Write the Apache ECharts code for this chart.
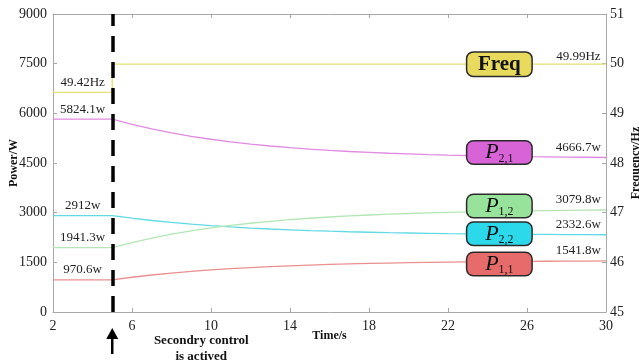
<!DOCTYPE html>
<html><head><meta charset="utf-8">
<script src="https://cdn.jsdelivr.net/npm/echarts@6/dist/echarts.min.js"></script>
<style>html,body{margin:0;padding:0;background:#fff}#c{width:639px;height:362px}</style>
</head><body><div id="c"></div>
<script>
// ---- data ----
const times = [2,3,4,5,6,7,8,9,10,11,12,13,14,15,16,17,18,19,20,21,22,23,24,25,26,27,28,29,30];
const p21 = [5824.1,5824.1,5824.1,5824.1,5666,5528,5409,5306,5217,5139,5072,5013,4963,4919,4881,4847,4820,4794,4773,4755,4739,4725,4712,4701,4692,4685,4678,4673,4666.7];
const p22 = [2912,2912,2912,2912,2833,2764,2704,2652,2608,2569,2535,2506,2481,2459,2440,2423,2409,2396,2386,2377,2368,2362,2355,2350,2345,2342,2338,2335,2332.6];
const p12 = [1941.3,1941.3,1941.3,1941.3,2097,2233,2350,2451,2539,2615,2681,2739,2788,2832,2869,2902,2930,2955,2975,2993,3009,3023,3035,3046,3055,3062,3068,3074,3079.8];
const p11 = [970.6,970.6,970.6,970.6,1049,1117,1176,1227,1270,1309,1342,1371,1396,1417,1436,1453,1466,1479,1489,1498,1506,1513,1520,1525,1529,1533,1536,1539,1541.8];
const freqTimes = [2,5,5,30];
const freqVals = [49.42,49.42,49.99,49.99];
const switchTime = 5;
const xTicks = {min:2, max:30, interval:4};
const yLeft = {min:0, max:9000, interval:1500};
const yRight = {min:45, max:51, interval:1};
const startLabels = ['5824.1w','2912w','1941.3w','970.6w'];
const endLabels = ['4666.7w','2332.6w','3079.8w','1541.8w'];
const freqStartLabel = '49.42Hz', freqEndLabel = '49.99Hz';
const legendNames = [['2','1'],['2','2'],['1','2'],['1','1']];

const serif = 'Liberation Serif';
const chart = echarts.init(document.getElementById('c'), null, {renderer:'canvas'});
const pair = (ts, vs) => ts.map((t,i)=>[t,vs[i]]);
const labelT0 = 3.5, labelT1 = 28.6, boxT = 24.6;
const boxShift = [-5, -1, -4, 3];

function valueLabel(t, v, text){
  return {coord:[t,v], symbol:'circle', symbolSize:0,
    label:{show:true, formatter:text, position:'inside', offset:[0,-10],
      fontFamily:serif, fontSize:13, color:'#222'}};
}
function boxLabel(t, v, sub, bg, dy){
  return {coord:[t,v], symbol:'circle', symbolSize:0,
    label:{show:true, position:'inside', offset:[0,dy], formatter:'{p|P}{s|'+sub[0]+','+sub[1]+'}',
      backgroundColor:bg, borderColor:'#2a2a2a', borderWidth:1.5, borderRadius:6,
      width:56, height:22, padding:[0,4], align:'center', verticalAlign:'middle',
      rich:{p:{fontFamily:serif, fontStyle:'italic', fontSize:22, color:'#111', lineHeight:22},
            s:{fontFamily:serif, fontSize:12, color:'#111', padding:[12,0,0,0], lineHeight:12}}}};
}
const powerSeries = [
  {vals:p21, line:'#e08ae0', box:'#d763d7'},
  {vals:p22, line:'#62d9e4', box:'#2cd9ea'},
  {vals:p12, line:'#b4e6b4', box:'#98e39c'},
  {vals:p11, line:'#ea9090', box:'#e86b6b'}
].map((s,k)=>({
  type:'line', xAxisIndex:0, yAxisIndex:0, data:pair(times, s.vals), showSymbol:false, smooth:false,
  lineStyle:{color:s.line, width:1.3}, itemStyle:{color:s.line}, z:3,
  markPoint:{animation:false, data:[
    valueLabel(labelT0, s.vals[0], startLabels[k]),
    valueLabel(labelT1, s.vals[s.vals.length-1], endLabels[k]),
    boxLabel(boxT, s.vals[s.vals.length-1], legendNames[k], s.box, boxShift[k])
  ]}
}));

const freqSeries = {
  type:'line', xAxisIndex:0, yAxisIndex:1, data:pair(freqTimes, freqVals), showSymbol:false,
  lineStyle:{color:'#e6df74', width:1.3}, z:3,
  markPoint:{animation:false, data:[
    {coord:[labelT0, freqVals[0]], symbol:'circle', symbolSize:0,
      label:{show:true, formatter:freqStartLabel, position:'inside', offset:[0,-10], fontFamily:serif, fontSize:13, color:'#222'}},
    {coord:[labelT1, freqVals[freqVals.length-1]], symbol:'circle', symbolSize:0,
      label:{show:true, formatter:freqEndLabel, position:'inside', offset:[0,-8], fontFamily:serif, fontSize:13, color:'#222'}},
    {coord:[boxT, freqVals[freqVals.length-1]], symbol:'circle', symbolSize:0,
      label:{show:true, position:'inside', formatter:'Freq', fontFamily:serif, fontWeight:'bold', fontSize:21, color:'#111',
        backgroundColor:'#e8da5c', borderColor:'#2a2a2a', borderWidth:1.5, borderRadius:6, width:56, height:23, padding:[0,4], align:'center', verticalAlign:'middle', lineHeight:23}}
  ]},
  markLine:{silent:true, symbol:'none', animation:false, label:{show:false},
    lineStyle:{color:'#000', width:3.5, type:[16,10]},
    data:[{xAxis:switchTime}]}
};

const axisLineGray = {show:true, lineStyle:{color:'#a8a8a8', width:1}};
const tickStyle = {show:true, inside:true, length:4, lineStyle:{color:'#a8a8a8'}};
const nameStyle = {fontFamily:serif, fontWeight:'bold', fontSize:12, color:'#111'};
const option = {
  animation:false,
  backgroundColor:'#fff',
  grid:{left:53, right:33, top:14, bottom:50, outerBoundsMode:'none'},
  xAxis:[
    {type:'value', position:'bottom', min:xTicks.min, max:xTicks.max, interval:xTicks.interval,
     name:'Time/s', nameLocation:'middle', nameGap:18, nameMoveOverlap:false, nameTextStyle:nameStyle,
     axisLine:axisLineGray, axisTick:tickStyle,
     axisLabel:{fontFamily:serif, fontSize:14, color:'#222', margin:7, formatter:v=>String(v)}, splitLine:{show:false}},
    {type:'value', position:'top', min:xTicks.min, max:xTicks.max, interval:xTicks.interval,
     axisLine:axisLineGray, axisTick:tickStyle, axisLabel:{show:false}, splitLine:{show:false}}
  ],
  yAxis:[
    {type:'value', position:'left', min:yLeft.min, max:yLeft.max, interval:yLeft.interval,
     name:'Power/W', nameLocation:'middle', nameGap:33, nameRotate:90, nameMoveOverlap:false, nameTextStyle:nameStyle,
     axisLine:axisLineGray, axisTick:tickStyle,
     axisLabel:{fontFamily:serif, fontSize:14, color:'#222', margin:6, formatter:v=>String(v)}, splitLine:{show:false}},
    {type:'value', position:'right', min:yRight.min, max:yRight.max, interval:yRight.interval,
     name:'Frequency/Hz', nameLocation:'middle', nameGap:24, nameRotate:90, nameMoveOverlap:false, nameTextStyle:nameStyle,
     axisLine:axisLineGray, axisTick:tickStyle,
     axisLabel:{fontFamily:serif, fontSize:14, color:'#222', margin:4, formatter:v=>String(v)}, splitLine:{show:false}}
  ],
  series:[freqSeries].concat(powerSeries)
};
chart.setOption(option);

// annotation under the switching instant
const px = chart.convertToPixel({xAxisIndex:0}, switchTime);
chart.setOption({graphic:[
  {type:'line', shape:{x1:px, y1:354, x2:px, y2:337}, style:{stroke:'#000', lineWidth:2.5}},
  {type:'polygon', shape:{points:[[px-6,339],[px+6,339],[px,328]]}, style:{fill:'#000'}},
  {type:'text', x:px+89, y:349, style:{text:'Secondry control\nis actived', align:'center', verticalAlign:'middle',
     font:'bold 13px "Liberation Serif"', fill:'#111', lineHeight:16}}
]});
</script></body></html>
